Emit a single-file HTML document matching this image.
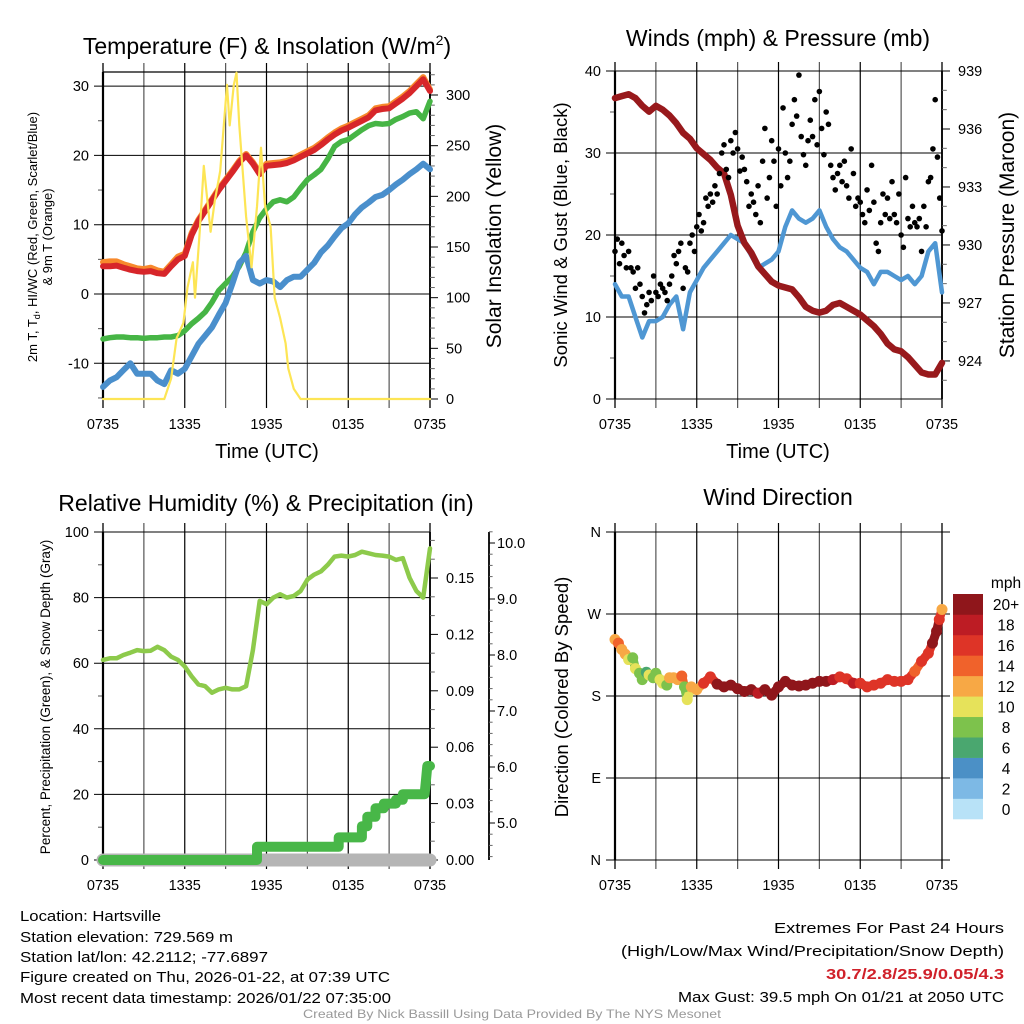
<!DOCTYPE html>
<html><head><meta charset="utf-8">
<style>
html,body{margin:0;padding:0;background:#fff;}
svg{display:block;font-family:"Liberation Sans",sans-serif;}
</style></head>
<body>
<svg id="chart" width="1024" height="1024" viewBox="0 0 1024 1024" xmlns="http://www.w3.org/2000/svg">
<rect x="0" y="0" width="1024" height="1024" fill="#fff"/>

<text x="267" y="54" font-size="23" text-anchor="middle">Temperature (F) &amp; Insolation (W/m<tspan font-size="14" dy="-9">2</tspan><tspan dy="9">)</tspan></text>
<text x="778" y="46" font-size="23" text-anchor="middle">Winds (mph) &amp; Pressure (mb)</text>
<text x="266" y="511" font-size="23" text-anchor="middle">Relative Humidity (%) &amp; Precipitation (in)</text>
<text x="778" y="505" font-size="23" text-anchor="middle">Wind Direction</text>

<text transform="translate(37,237) rotate(-90)" font-size="13" text-anchor="middle">2m T, T<tspan font-size="9" dy="3">d</tspan><tspan dy="-3">, HI/WC (Red, Green, Scarlet/Blue)</tspan></text>
<text transform="translate(52,237) rotate(-90)" font-size="13" text-anchor="middle">&amp; 9m T (Orange)</text>
<text transform="translate(501,236) rotate(-90)" font-size="21" text-anchor="middle">Solar Insolation (Yellow)</text>
<text x="267" y="458" font-size="20" text-anchor="middle">Time (UTC)</text>

<text transform="translate(567,235) rotate(-90)" font-size="18.5" text-anchor="middle">Sonic Wind &amp; Gust (Blue, Black)</text>
<text transform="translate(1014,235) rotate(-90)" font-size="21" text-anchor="middle">Station Pressure (Maroon)</text>
<text x="778" y="458" font-size="20" text-anchor="middle">Time (UTC)</text>

<text transform="translate(50,697) rotate(-90)" font-size="13.5" text-anchor="middle">Percent, Precipitation (Green), &amp; Snow Depth (Gray)</text>
<text transform="translate(568,697) rotate(-90)" font-size="18.5" text-anchor="middle">Direction (Colored By Speed)</text>

<g id="plots"></g>

<g font-size="15">
<text x="20" y="921" textLength="141" lengthAdjust="spacingAndGlyphs">Location: Hartsville</text>
<text x="20" y="942" textLength="213" lengthAdjust="spacingAndGlyphs">Station elevation: 729.569 m</text>
<text x="20" y="962" textLength="248" lengthAdjust="spacingAndGlyphs">Station lat/lon: 42.2112; -77.6897</text>
<text x="20" y="982" textLength="370" lengthAdjust="spacingAndGlyphs">Figure created on Thu, 2026-01-22, at 07:39 UTC</text>
<text x="20" y="1003" textLength="371" lengthAdjust="spacingAndGlyphs">Most recent data timestamp: 2026/01/22 07:35:00</text>
</g>
<g font-size="15" text-anchor="end">
<text x="1004" y="933" textLength="230" lengthAdjust="spacingAndGlyphs">Extremes For Past 24 Hours</text>
<text x="1004" y="956" textLength="383" lengthAdjust="spacingAndGlyphs">(High/Low/Max Wind/Precipitation/Snow Depth)</text>
<text x="1004" y="979" textLength="178" lengthAdjust="spacingAndGlyphs" fill="#d0212a" font-weight="bold">30.7/2.8/25.9/0.05/4.3</text>
<text x="1004" y="1002" textLength="326" lengthAdjust="spacingAndGlyphs">Max Gust: 39.5 mph On 01/21 at 2050 UTC</text>
</g>
<text x="512" y="1018" font-size="12" fill="#999" text-anchor="middle" textLength="418" lengthAdjust="spacingAndGlyphs">Created By Nick Bassill Using Data Provided By The NYS Mesonet</text>
</svg>

<script>
// ---------- DATA (half-hourly, hour 0 = 0735 UTC) ----------
const xTickLabels = ["0735","1335","1935","0135","0735"];
const temp2m = [4,4,4.1,3.8,3.5,3.3,3.2,3.3,3,2.9,4,5,5.5,8.5,10.5,12,13.5,15,16.3,17.6,19,20,18.8,17.3,18.5,18.6,18.7,18.9,19.3,19.8,20.3,20.8,21.5,22.3,23,23.6,24,24.5,25,25.5,26.5,26.7,26.8,27.5,28.2,29,30,31,29.3];
const temp9m = [4.6,4.7,4.7,4.3,4,3.7,3.6,3.8,3.4,3.2,4.3,5.4,5.8,8.8,10.7,12.2,13.7,15.2,16.5,17.8,19.2,20.2,19,17.5,18.8,18.9,19,19.2,19.6,20.1,20.6,21.1,21.8,22.6,23.3,23.9,24.3,24.8,25.3,25.8,26.8,27,27.1,27.8,28.5,29.3,30.3,31.3,29.5];
const heatIndexWc = [-6.5,-6.3,-6.2,-6.2,-6.3,-6.3,-6.4,-6.3,-6.3,-6.2,-6.2,-6,-5.3,-4.3,-3.5,-2.6,-1.2,0.5,1.5,2.5,4,6,9,11,12.3,13.3,13.6,13.3,14,15.3,16.5,17.2,18,19.5,21.3,22,22.3,23,23.7,24.3,24.6,24.5,24.6,25.2,25.6,26.1,26.3,25.3,27.8];
const dewPoint = [-13.4,-12.5,-12,-11,-10,-11.5,-11.5,-11.5,-12.5,-13,-11,-11.5,-10.8,-9,-7.2,-6,-4.8,-3,-1.3,1.5,4.5,5.5,2,1.5,2,1.8,1,2,2.5,2.5,3.5,4.5,6,7,8.3,9.5,10.2,11.5,12.5,13.2,14,14.3,15,15.8,16.5,17.3,18,18.8,18];
const solarTimes = [0,4.5,5,5.4,5.9,6.2,6.6,6.75,7.1,7.4,7.9,8.2,8.6,9.1,9.3,9.6,9.8,10,10.5,10.9,11.3,11.6,11.9,12.3,12.6,13,13.4,13.6,14,14.5,24];
const solarVals  = [0,0,20,60,75,110,135,100,165,230,165,195,225,310,270,310,322,270,180,130,190,248,190,170,100,80,55,30,10,0,0];

const windSpeed = [14,12.5,12.5,10,7.5,9.5,9.5,10,11.5,12.5,8.5,13,14.5,16,17,18,19,20,19.5,19,17.5,16,16.5,17,18,21,23,22,21.5,22,23,21,19.5,18.5,18,17,16,15.5,14,15.5,15.5,15,14.5,15,14,15,18,19,13];
const pressure = [937.6,937.7,937.8,937.6,937.2,936.9,937.2,937,936.7,936.3,935.8,935.5,935,934.7,934.4,934,933.7,932.6,931,930.1,929.6,928.9,928.5,928.1,927.9,927.8,927.7,927.3,926.8,926.6,926.5,926.6,926.9,927,926.8,926.6,926.4,926.1,925.8,925.4,924.9,924.6,924.5,924.2,923.8,923.4,923.3,923.3,923.9];
// gust every 10 minutes
const gustVals = [18,19.5,16.5,19,17.5,16, 18,16,15.5,13.5,16,14, 12.5,10.5,11.5,13,12,15, 13,12.5,14,13.5,13,12, 14,15,17.5,16.5,18,19, 13.5,16,15.5,19,20,18, 21,22.5,20.5,21.5,24.5,23.5, 25,24,26,25,27.5,30, 31,28,27,31.5,30,32.5, 30.5,27.8,29.5,28,26.5,23.5, 25,24,22.5,26,21.5,29, 33,24.5,27,31.5,29,23.5, 30.5,26,35.5,30,27,29, 33.5,36.5,34.5,39.5,32,29.8, 28.5,31.5,34,32,36.5,31, 37.5,33,29.8,35,33.5,28.5, 27,25.5,27.5,28.5,26.5,29, 26,24.5,30.5,27.5,23.5,24.5, 24,22.5,21.5,25.5,23,28.5, 24,19,18,21.5,25,22.5, 24.5,22,26.5,22.5,21.5,25, 20,18.5,27,22,21,23.5, 21.5,21,22,18,23.5,21, 26.5,27,30.5,36.5,29.5,24.5, 20.5];

const relHumidity = [61,61.5,61.5,62.5,63.2,64,63.7,63.8,65,64,62,61,59,56,53.5,53,51,52,52.5,52,52,53,64,79,78,80,81,80,80.5,82,85.5,87,88,90,92.5,92.8,92.5,93,94,93.5,93,92.8,92.5,91.5,92,86,82,80,95];
const precipTimes = [0,11.3,11.3,17.3,17.3,19.0,19.0,19.4,19.4,20.0,20.0,20.6,20.6,21.5,21.5,22.0,22.0,23.6,23.7,23.8,24];
const precipVals  = [0,0,0.007,0.007,0.012,0.012,0.018,0.018,0.023,0.023,0.0275,0.0275,0.030,0.030,0.032,0.032,0.035,0.035,0.042,0.05,0.05];
const snowDepth = [4.3,4.3];

const dirTimes = [0,0.25,0.5,0.75,1,1.3,1.5,1.8,2,2.3,2.5,2.8,3,3.3,3.5,3.8,4,4.3,4.6,4.9,5.1,5.3,5.6,6,6.5,7,7.5,8,8.5,9,9.5,10,10.5,11,11.5,12,12.5,13,13.5,14,14.5,15,15.5,16,16.5,17,17.5,18,18.5,19,19.5,20,20.5,21,21.5,22,22.5,23,23.3,23.6,23.8,24];
const dirVals  = [242,238,231,226,220,222,210,205,198,206,203,200,205,198,194,192,200,200,198,202,190,176,190,187,194,201,193,190,192,188,185,187,183,187,181,190,196,192,191,192,194,196,196,198,201,199,194,194,190,192,194,198,196,196,198,207,218,227,238,251,264,275];
const dirSpeeds= [13,14,12,12,10,8,10,9,8,7,10,9,8,10,10,8,12,12,12,14,8,10,13,13,16,17,21,22,22,21,20,21,19,21,20,22,22,21,22,21,22,21,20,19,17,17,18,17,17,16,16,17,16,16,17,14,16,17,20,21,17,13];
const speedLevels = ["0","2","4","6","8","10","12","14","16","18","20+"];
const speedColors = ["#b8e2f7","#7db9e5","#4b90c6","#4aa76f","#7dc24c","#e6e25a","#f7a845","#f0622b","#de3427","#bd1c24","#8f161b"];

// ---------- HELPERS ----------
const NS = "http://www.w3.org/2000/svg";
const root = document.getElementById("plots");
function mk(tag, parent){ const e=document.createElementNS(NS,tag); (parent||root).appendChild(e); return e; }
function setA(e, o){ for(const k in o) e.setAttribute(k,o[k]); return e; }
const tOf = i => i/2;
function makeX(x0){ return h => x0 + h*(327/24); }
function pathFrom(xs, ys){ return xs.map((x,i)=>(i?"L":"M")+x.toFixed(1)+","+ys[i].toFixed(1)).join(""); }

function frame(x0, top, bot, yFn, majors, minors, labels, rightLen){
  const X = makeX(x0);
  const g = mk("g");
  
  
  // vertical grid every 3h
  for(let h=0; h<=24; h+=3){
    const l = mk("line", g);
    setA(l,{x1:X(h),x2:X(h),y1:top-9,y2:bot+9,stroke:(h%6==0)?"#000":"#555","stroke-width":(h===0||h===24)?1.3:1.2});
    
    
  }
  for(let i=0;i<xTickLabels.length;i++){
    const t = mk("text", g);
    setA(t,{x:X(i*6),y:bot+30,"font-size":14.5,"text-anchor":"middle"});
    t.textContent = xTickLabels[i];
    
    
  }
  majors.forEach((v,i)=>{
    const y = yFn(v);
    const l = mk("line", g);
    setA(l,{x1:x0-9,x2:X(24)+rightLen,y1:y,y2:y,stroke:"#000","stroke-width":1});
    
    
    const t = mk("text", g);
    setA(t,{x:x0-14,y:y+5,"font-size":14.5,"text-anchor":"end"});
    t.textContent = labels[i];
    
    
  });
  minors.forEach(v=>{
    const l = mk("line", g);
    setA(l,{x1:x0-5,x2:x0,y1:yFn(v),y2:yFn(v),stroke:"#555","stroke-width":1});
    
    
  });
  const ax = mk("line", g);
  setA(ax,{x1:x0,x2:x0,y1:top,y2:bot,stroke:"#000","stroke-width":2.2});
  
  
  return X;
}
function rightAxis(xa, yFn, top, bot, majors, labels, minors, len, lx){
  const g = mk("g");
  
  
  const ax = mk("line", g);
  setA(ax,{x1:xa,x2:xa,y1:top,y2:bot,stroke:"#000","stroke-width":1.8});
  
  
  majors.forEach((v,i)=>{
    const l = mk("line", g);
    setA(l,{x1:xa,x2:xa+len,y1:yFn(v),y2:yFn(v),stroke:"#000","stroke-width":1});
    
    
    const t = mk("text", g);
    setA(t,{x:lx,y:yFn(v)+5,"font-size":14.5});
    t.textContent = labels[i];
    
    
  });
  minors.forEach(v=>{
    const l = mk("line", g);
    setA(l,{x1:xa,x2:xa+len*0.6,y1:yFn(v),y2:yFn(v),stroke:"#666","stroke-width":1});
    
    
  });
}
function line(d, color, w, name){
  const p = mk("path");
  setA(p,{d:d,fill:"none",stroke:color,"stroke-width":w,"stroke-linejoin":"round","stroke-linecap":"round"});
  
  
  return p;
}
function range(a,b,s){ const r=[]; for(let v=a; v<=b+1e-9; v+=s) r.push(+v.toFixed(4)); return r; }

// ---------- PANEL 1: Temperature ----------
{
  const yL = v => 294 - v*6.93;
  const yR = v => 399 - v*1.0133;
  const top=72, bot=399;
  const X = frame(103, top, bot, yL, [-10,0,10,20,30], [-15,-5,5,15,25], ["-10","0","10","20","30"], 0);
  const tl = mk("line"); setA(tl,{x1:103,x2:430,y1:top,y2:top,stroke:"#000","stroke-width":1.2});
   
  rightAxis(430, yR, top, bot, [0,50,100,150,200,250,300], ["0","50","100","150","200","250","300"], range(10,320,10).filter(v=>v%50), 8, 446);
  const hx = temp2m.map((_,i)=>X(tOf(i)));
  line(pathFrom(hx, temp9m.map(yL)), "#f7892c", 6, "temperature-9m-line");
  line(pathFrom(hx, temp2m.map(yL)), "#d7262a", 6, "temperature-2m-line");
  line(pathFrom(hx, heatIndexWc.map(yL)), "#46b545", 5.5, "heat-index-wind-chill-line");
  line(pathFrom(hx, dewPoint.map(yL)), "#4a8fcc", 6, "dewpoint-line");
  line(pathFrom(solarTimes.map(X), solarVals.map(yR)), "#fde555", 2.2, "solar-insolation-line");
}

// ---------- PANEL 2: Winds & Pressure ----------
{
  const yL = v => 399 - v*8.2;
  const yR = p => 71 + (939-p)*19.33;
  const top=71, bot=399;
  const X = frame(615, top, bot, yL, [0,10,20,30,40], [5,15,25,35], ["0","10","20","30","40"], 0);
  rightAxis(942, yR, top, bot, [939,936,933,930,927,924], ["939","936","933","930","927","924"], [938,937,935,934,932,931,929,928,926,925,923], 8, 958);
  const hx = windSpeed.map((_,i)=>X(tOf(i)));
  line(pathFrom(hx, windSpeed.map(yL)), "#4f97d3", 4.5, "sonic-wind-line");
  line(pathFrom(hx, pressure.map(yR)), "#98191c", 6.5, "station-pressure-line");
  const g = mk("g");
  
  
  gustVals.forEach((v,i)=>{
    const c = mk("circle", g);
    setA(c,{cx:X(i/6),cy:yL(v),r:2.8,fill:"#000"});
    
    
  });
}

// ---------- PANEL 3: RH & Precip ----------
{
  const yL = v => 860 - v*3.28;
  const yP = v => 860 - v*1880;
  const yS = v => 543 + (10-v)*56;
  const top=532, bot=860;
  const X = frame(103, top, bot, yL, [0,20,40,60,80,100], [10,30,50,70,90], ["0","20","40","60","80","100"], 0);
  rightAxis(430, yP, top, bot, [0,0.03,0.06,0.09,0.12,0.15], ["0.00","0.03","0.06","0.09","0.12","0.15"], [0.01,0.02,0.04,0.05,0.07,0.08,0.1,0.11,0.13,0.14,0.16,0.17], 8, 446);
  rightAxis(489, yS, top, bot, [5,6,7,8,9,10], ["5.0","6.0","7.0","8.0","9.0","10.0"], range(4.4,10.2,0.2).filter(v=>Math.abs(v-Math.round(v))>0.01), 6, 497);
  line(pathFrom([X(0),X(24)], snowDepth.map(()=>bot)), "#b5b5b5", 13, "snow-depth-line");
  line(pathFrom(precipTimes.map(X), precipVals.map(yP)), "#48b748", 10, "precipitation-line");
  line(pathFrom(relHumidity.map((_,i)=>X(tOf(i))), relHumidity.map(yL)), "#8dca4b", 4.5, "relative-humidity-line");
}

// ---------- PANEL 4: Wind Direction ----------
{
  const yD = d => 860 - d*(328/360);
  const top=532, bot=860;
  const X = frame(615, top, bot, yD, [0,90,180,270,360], [], ["N","E","S","W","N"], 8);
  const colorFor = s => speedColors[Math.min(10, Math.max(0, Math.floor(s/2)))];
  const g = mk("g");
  
  
  for(let i=0;i<dirVals.length-1;i++){
    const l = mk("line", g);
    setA(l,{x1:X(dirTimes[i]),y1:yD(dirVals[i]),x2:X(dirTimes[i+1]),y2:yD(dirVals[i+1]),stroke:colorFor(dirSpeeds[i]),"stroke-width":9,"stroke-linecap":"round"});
    
    
  }
  dirVals.forEach((d,i)=>{
    const c = mk("circle", g);
    setA(c,{cx:X(dirTimes[i]),cy:yD(d),r:5.5,fill:colorFor(dirSpeeds[i])});
    
    
  });
  // colorbar
  const cb = mk("g");
  
  
  const bh = 225/11;
  speedColors.forEach((col,i)=>{
    const y = 819 - (i+1)*bh;
    const r = mk("rect", cb);
    setA(r,{x:953,y:y,width:30,height:bh+0.3,fill:col});
    
    
    const t = mk("text", cb);
    setA(t,{x:1006,y:y+bh/2+6,"font-size":15.5,"text-anchor":"middle"});
    t.textContent = speedLevels[i];
    
    
  });
  const u = mk("text", cb);
  setA(u,{x:1006,y:588,"font-size":15.5,"text-anchor":"middle"});
  u.textContent = "mph";
  
  
}
</script>
</body></html>
